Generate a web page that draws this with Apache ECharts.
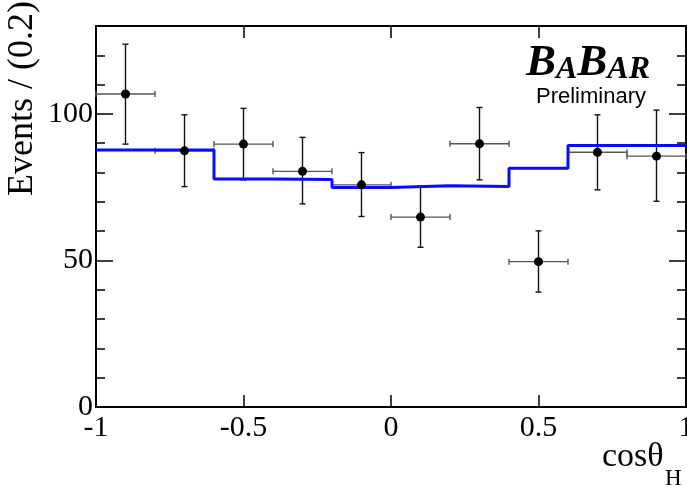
<!DOCTYPE html>
<html>
<head>
<meta charset="utf-8">
<script src="https://cdn.jsdelivr.net/npm/echarts@6/dist/echarts.min.js"></script>
<style>
html,body{margin:0;padding:0;background:#fff;}
#chart{width:687px;height:485px;}
</style>
</head>
<body>
<div id="chart"></div>
<script>
// ---- data ----
var binCenters = [-0.9, -0.7, -0.5, -0.3, -0.1, 0.1, 0.3, 0.5, 0.7, 0.9];
var binHalfWidth = 0.1;
var counts   = [106.8, 87.4, 89.7, 80.4, 75.8, 64.8, 89.8, 49.6, 86.9, 85.6];
var errUp    = [17.0, 12.3, 12.2, 11.6, 11.0, 10.4, 12.4, 10.5, 12.8, 15.7];
var errDown  = [17.1, 12.2, 12.2, 11.1, 10.8, 10.3, 12.3, 10.4, 12.8, 15.4];
var fitEdges  = [-1, -0.8, -0.6, -0.4, -0.2, 0, 0.2, 0.4, 0.6, 0.8, 1];
var fitValues = [87.7, 87.7, 77.8, 77.6, 74.9, 75.5, 75.2, 81.5, 89.2, 89.2];
var xTicks = [-1, -0.5, 0, 0.5, 1];
var yLabelTicks = [0, 50, 100];
var xTitle = 'cosθ';
var xTitleSub = 'H';
var yTitle = 'Events / (0.2)';
var logoText = ['B', 'A', 'B', 'AR'];
var prelimText = 'Preliminary';

// ---- build series data ----
var pointData = binCenters.map(function (x, i) { return [x, counts[i]]; });
var errData = binCenters.map(function (x, i) {
  return [x, counts[i], counts[i] - errDown[i], counts[i] + errUp[i]];
});
var fitData = fitEdges.map(function (x, i) {
  return [x, i < fitValues.length ? fitValues[i] : fitValues[fitValues.length - 1]];
});

var serif = '"Liberation Serif", "Times New Roman", serif';
var chart = echarts.init(document.getElementById('chart'), null, {renderer: 'canvas'});

function yAxisDef(pos, interval, tickLen, showLabel) {
  return {
    type: 'value', position: pos, min: 0, max: 130, interval: interval,
    axisLine: {show: true, onZero: false, lineStyle: {color: '#000', width: 2}},
    axisTick: {show: true, inside: true, length: tickLen, lineStyle: {color: '#000', width: 1.5}},
    axisLabel: {
      show: showLabel, color: '#000', fontFamily: serif, fontSize: 30, margin: 3,
      formatter: function (v) { return yLabelTicks.indexOf(v) >= 0 ? String(v) : ''; }
    },
    splitLine: {show: false}
  };
}

var option = {
  animation: false,
  backgroundColor: '#fff',
  grid: {left: 96, right: 1, top: 26, bottom: 78, containLabel: false, outerBoundsMode: 'none'},
  xAxis: [
    {
      type: 'value', position: 'bottom', min: -1, max: 1, interval: 0.5,
      axisLine: {show: true, onZero: false, lineStyle: {color: '#000', width: 2}},
      axisTick: {show: true, inside: true, length: 12, lineStyle: {color: '#000', width: 1.5}},
      axisLabel: {color: '#000', fontFamily: serif, fontSize: 30, margin: 6,
        formatter: function (v) { return xTicks.indexOf(v) >= 0 ? String(v) : ''; }},
      splitLine: {show: false}
    },
    {
      type: 'value', position: 'top', min: -1, max: 1, interval: 0.5,
      axisLine: {show: true, onZero: false, lineStyle: {color: '#000', width: 2}},
      axisTick: {show: true, inside: true, length: 12, lineStyle: {color: '#000', width: 1.5}},
      axisLabel: {show: false},
      splitLine: {show: false}
    }
  ],
  yAxis: [
    yAxisDef('left', 50, 17, true),
    yAxisDef('left', 10, 9, false),
    yAxisDef('right', 50, 17, false),
    yAxisDef('right', 10, 9, false)
  ],
  graphic: [
    {
      type: 'text', x: 23, y: 1, rotation: Math.PI / 2,
      style: {text: yTitle, font: '36px ' + serif, fill: '#000', textAlign: 'right', textVerticalAlign: 'middle'}
    },
    {
      type: 'text', x: 602, y: 474,
      style: {text: xTitle, font: '34px ' + serif, fill: '#000', textAlign: 'left', textVerticalAlign: 'bottom'}
    },
    {
      type: 'text', x: 665, y: 490,
      style: {text: xTitleSub, font: '23px ' + serif, fill: '#000', textAlign: 'left', textVerticalAlign: 'bottom'}
    },
    {
      type: 'text', x: 526, y: 86,
      style: {
        text: '{b|' + logoText[0] + '}{s|' + logoText[1] + '}{b|' + logoText[2] + '}{s|' + logoText[3] + '}',
        textAlign: 'left', textVerticalAlign: 'bottom',
        rich: {
          b: {fontFamily: serif, fontSize: 45, fontStyle: 'italic', fontWeight: 'bold', fill: '#000', color: '#000', verticalAlign: 'bottom'},
          s: {fontFamily: serif, fontSize: 32, fontStyle: 'italic', fontWeight: 'bold', fill: '#000', color: '#000', verticalAlign: 'bottom'}
        }
      }
    },
    {
      type: 'text', x: 536, y: 86,
      style: {text: prelimText, font: '22px "Liberation Sans", Arial, sans-serif', fill: '#000', textAlign: 'left', textVerticalAlign: 'top'}
    }
  ],
  series: [
    {
      type: 'custom', xAxisIndex: 0, yAxisIndex: 0, z: 3,
      data: errData,
      renderItem: function (params, api) {
        var x = api.value(0), y = api.value(1), lo = api.value(2), hi = api.value(3);
        var c = api.coord([x, y]);
        var pl = api.coord([x - binHalfWidth, y]);
        var pr = api.coord([x + binHalfWidth, y]);
        var pLo = api.coord([x, lo]);
        var pHi = api.coord([x, hi]);
        var cap = 3;
        var vStyle = {stroke: '#111', lineWidth: 1.4};
        var hStyle = {stroke: '#555', lineWidth: 1.4};
        return {
          type: 'group',
          children: [
            {type: 'line', shape: {x1: pl[0], y1: c[1], x2: pr[0], y2: c[1]}, style: hStyle},
            {type: 'line', shape: {x1: pl[0], y1: c[1] - cap, x2: pl[0], y2: c[1] + cap}, style: hStyle},
            {type: 'line', shape: {x1: pr[0], y1: c[1] - cap, x2: pr[0], y2: c[1] + cap}, style: hStyle},
            {type: 'line', shape: {x1: c[0], y1: pLo[1], x2: c[0], y2: pHi[1]}, style: vStyle},
            {type: 'line', shape: {x1: c[0] - cap, y1: pLo[1], x2: c[0] + cap, y2: pLo[1]}, style: vStyle},
            {type: 'line', shape: {x1: c[0] - cap, y1: pHi[1], x2: c[0] + cap, y2: pHi[1]}, style: vStyle}
          ]
        };
      }
    },
    {
      type: 'line', xAxisIndex: 0, yAxisIndex: 0, step: 'end', z: 4,
      data: fitData, showSymbol: false, symbol: 'none',
      lineStyle: {color: '#0a0aff', width: 3}
    },
    {
      type: 'scatter', xAxisIndex: 0, yAxisIndex: 0, z: 5,
      data: pointData, symbol: 'circle', symbolSize: 9,
      itemStyle: {color: '#000', opacity: 1}
    }
  ]
};
chart.setOption(option);
</script>
</body>
</html>
